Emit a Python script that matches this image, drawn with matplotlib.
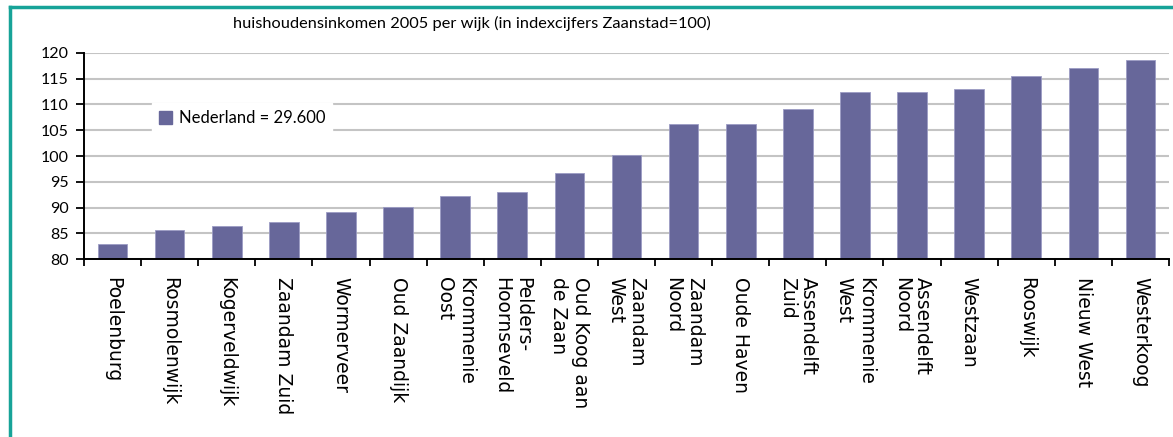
import matplotlib
matplotlib.use("Agg")
import matplotlib.pyplot as plt
from matplotlib.lines import Line2D
from matplotlib.patches import Patch
import numpy as np

wijken = ["Poelenburg", "Rosmolenwijk", "Kogerveldwijk", "Zaandam Zuid", "Wormerveer",
          "Oud Zaandijk", "Krommenie\nOost", "Pelders-\nHoornseveld", "Oud Koog aan\nde Zaan",
          "Zaandam\nWest", "Zaandam\nNoord", "Oude Haven", "Assendelft\nZuid",
          "Krommenie\nWest", "Assendelft\nNoord", "Westzaan", "Rooswijk", "Nieuw West",
          "Westerkoog"]
index_2005 = [83.0, 85.7, 86.5, 87.2, 89.1, 90.2, 92.2, 93.0, 96.8, 100.1,
              106.2, 106.2, 109.2, 112.5, 112.5, 112.9, 115.6, 117.1, 118.6]
y_ticks = [80, 85, 90, 95, 100, 105, 110, 115, 120]

plt.rcParams['font.family'] = ['Lato', 'DejaVu Sans']

bar_color = '#67679a'
teal = '#17a398'

fig = plt.figure(figsize=(11.73, 4.37), dpi=100)
ax = fig.add_axes([0.0716, 0.407, 0.925, 0.472])

x = np.arange(len(wijken))
ax.bar(x, index_2005, width=0.52, color=bar_color, edgecolor='#9c9cc4', linewidth=0.6, zorder=3)

ax.set_ylim(80, 120)
ax.set_xlim(-0.5, len(wijken) - 0.5)
ax.set_yticks(y_ticks)
ax.set_yticklabels([str(v) for v in y_ticks], fontsize=11.5)
ax.grid(axis='y', color='#c4c4c4', lw=1.5, zorder=0)

ax.set_xticks(x)
ax.set_xticklabels(wijken, rotation=270, fontsize=13.5, multialignment='left',
                   linespacing=1.15, family=['DejaVu Sans'])
ax.set_xticks(np.arange(len(wijken) + 1) - 0.5, minor=True)
ax.tick_params(axis='x', which='major', length=0, pad=13)
ax.tick_params(axis='x', which='minor', length=5, width=1.3, direction='out', color='black')
ax.tick_params(axis='y', length=6, width=1.3, direction='out', pad=5)

for s in ['top', 'right']:
    ax.spines[s].set_visible(False)
for s in ['left', 'bottom']:
    ax.spines[s].set_linewidth(1.4)
    ax.spines[s].set_zorder(4)

leg = ax.legend(handles=[Patch(color=bar_color, label='Nederland = 29.600')],
                loc='upper left', bbox_to_anchor=(0.063, 0.755), frameon=True,
                fancybox=False, fontsize=12, handlelength=0.8, handleheight=0.8,
                handletextpad=0.4, borderpad=0.4, borderaxespad=0)
leg.get_frame().set_edgecolor('white')
leg.get_frame().set_facecolor('white')
leg.get_frame().set_alpha(1)
leg.set_zorder(5)

fig.text(0.199, 0.947, "huishoudensinkomen 2005 per wijk (in indexcijfers Zaanstad=100)",
         fontsize=11.8, va='center', ha='left', family=['Lato', 'DejaVu Sans'])

# teal frame lines (top and left)
fig.add_artist(Line2D([0.0085, 1.0], [0.984, 0.984], color=teal, lw=2.5, transform=fig.transFigure))
fig.add_artist(Line2D([0.0085, 0.0085], [0.0, 0.984], color=teal, lw=2.5, transform=fig.transFigure))

fig.savefig("out.png", dpi=100, facecolor='white')
